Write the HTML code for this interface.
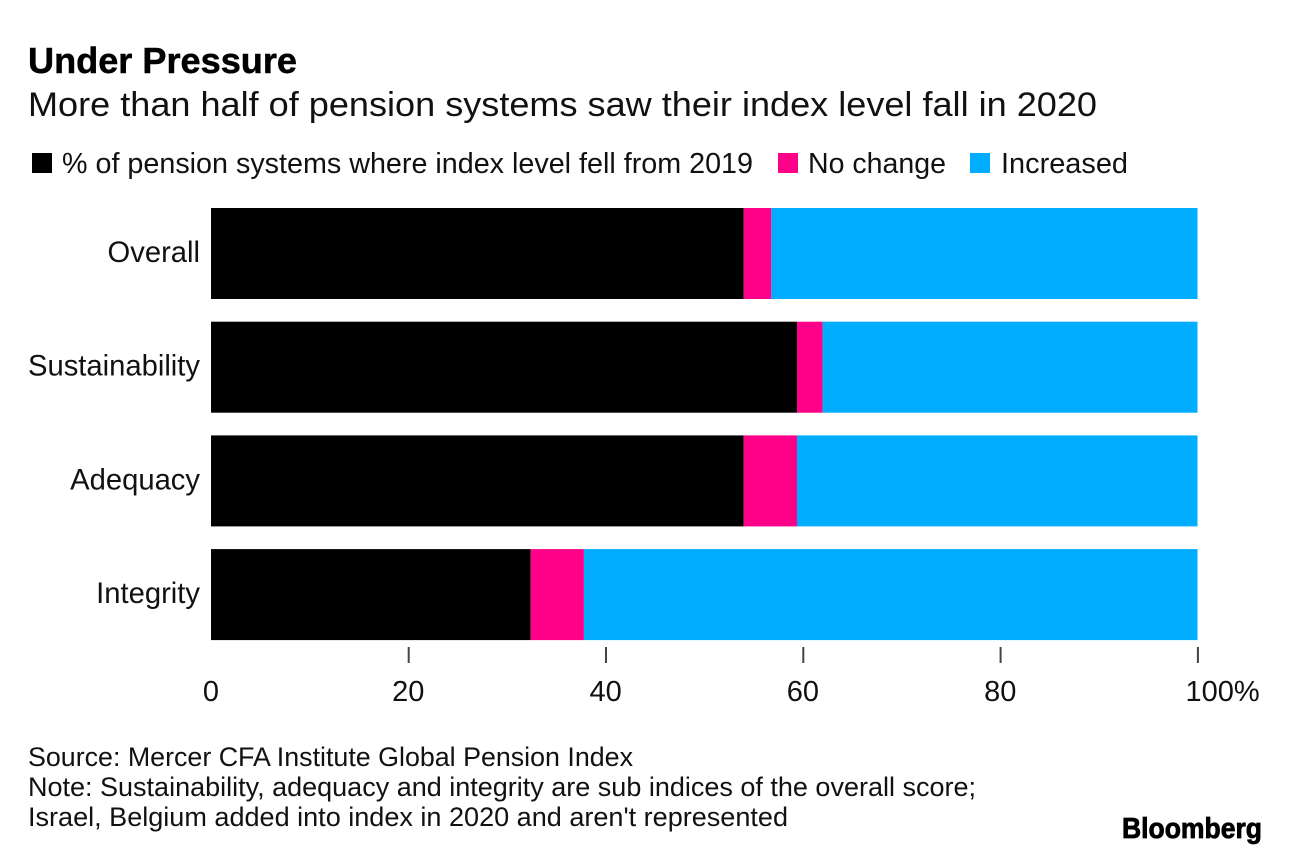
<!DOCTYPE html>
<html>
<head>
<meta charset="utf-8">
<title>Under Pressure</title>
<style>
html,body{margin:0;padding:0;background:#fff;width:1289px;height:856px;overflow:hidden}
svg{display:block}
text{font-family:"Liberation Sans",Arial,sans-serif;fill:#111}
</style>
</head>
<body>
<svg id="chart" width="1289" height="856" viewBox="0 0 1289 856" xmlns="http://www.w3.org/2000/svg">
<rect x="0" y="0" width="1289" height="856" fill="#ffffff"/>
<text x="28" y="73" font-size="36" font-weight="700" style="fill:#000;stroke:#000;stroke-width:0.5" textLength="269" lengthAdjust="spacingAndGlyphs">Under Pressure</text>
<text x="28" y="116" font-size="34.5" textLength="1069" lengthAdjust="spacingAndGlyphs">More than half of pension systems saw their index level fall in 2020</text>

<rect x="32" y="153" width="20" height="20" fill="#000000"/>
<text x="62" y="173" font-size="29" textLength="691" lengthAdjust="spacingAndGlyphs">% of pension systems where index level fell from 2019</text>
<rect x="778" y="153" width="20" height="20" fill="#ff0089"/>
<text x="808" y="173" font-size="29" textLength="138" lengthAdjust="spacingAndGlyphs">No change</text>
<rect x="970" y="153" width="20" height="20" fill="#00adff"/>
<text x="1001" y="173" font-size="29" textLength="127" lengthAdjust="spacingAndGlyphs">Increased</text>

<g id="bars"></g>
<g id="category-axis"></g>
<g id="value-axis"></g>

<text x="28" y="766" font-size="27" textLength="605" lengthAdjust="spacingAndGlyphs">Source: Mercer CFA Institute Global Pension Index</text>
<text x="28" y="796" font-size="27" textLength="948" lengthAdjust="spacingAndGlyphs">Note: Sustainability, adequacy and integrity are sub indices of the overall score;</text>
<text x="28" y="826" font-size="27" textLength="760" lengthAdjust="spacingAndGlyphs">Israel, Belgium added into index in 2020 and aren't represented</text>
<text x="1122" y="838" font-size="29" font-weight="700" style="fill:#000;stroke:#000;stroke-width:0.8" textLength="140" lengthAdjust="spacingAndGlyphs">Bloomberg</text>
</svg>
<script>
const categories = ["Overall", "Sustainability", "Adequacy", "Integrity"];
const fell = [54, 59.4, 54, 32.4];
const noChange = [2.8, 2.6, 5.4, 5.4];
const increased = [43.2, 38, 40.6, 62.2];
const tickValues = [0, 20, 40, 60, 80, 100];
const tickLabels = ["0", "20", "40", "60", "80", "100%"];

const NS = "http://www.w3.org/2000/svg";
const plotLeft = 211, plotRight = 1197.5, plotTop = 208, bandStep = 113.7, barHeight = 91;
function xScale(v) { return plotLeft + (v / 100) * (plotRight - plotLeft); }
function yScale(i) { return plotTop + i * bandStep; }

const barsGroup = document.getElementById("bars");
const catGroup = document.getElementById("category-axis");
const valGroup = document.getElementById("value-axis");

function drawSegment(start, value, colour, i, seriesName) {
  const r = document.createElementNS(NS, "rect");
  r.setAttribute("x", xScale(start));
  r.setAttribute("y", yScale(i));
  r.setAttribute("width", xScale(start + value) - xScale(start));
  r.setAttribute("height", barHeight);
  r.setAttribute("fill", colour);
  
  
  r.setAttribute("data-series", seriesName);
  barsGroup.appendChild(r);
}

categories.forEach(function (cat, i) {
  drawSegment(0, fell[i], "#000000", i, "fell");
  drawSegment(fell[i], noChange[i], "#ff0089", i, "no-change");
  drawSegment(fell[i] + noChange[i], increased[i], "#00adff", i, "increased");
  const t = document.createElementNS(NS, "text");
  t.setAttribute("x", 200);
  t.setAttribute("y", yScale(i) + barHeight / 2 + 8.5);
  t.setAttribute("text-anchor", "end");
  t.setAttribute("font-size", "29.2");
  
  
  t.textContent = cat;
  catGroup.appendChild(t);
});

tickValues.forEach(function (v, i) {
  if (v !== 0) {
    const l = document.createElementNS(NS, "line");
    l.setAttribute("x1", xScale(v) + 0.4);
    l.setAttribute("x2", xScale(v) + 0.4);
    l.setAttribute("y1", 647);
    l.setAttribute("y2", 663);
    l.setAttribute("stroke", "#444444");
    l.setAttribute("stroke-width", "2");
    
    
    valGroup.appendChild(l);
  }
  const t = document.createElementNS(NS, "text");
  t.setAttribute("y", 701);
  t.setAttribute("font-size", "29");
  t.setAttribute("x", v === 100 ? xScale(v) - 12 : xScale(v));
  t.setAttribute("text-anchor", v === 100 ? "start" : "middle");
  
  
  t.textContent = tickLabels[i];
  valGroup.appendChild(t);
});
</script>
</body>
</html>
